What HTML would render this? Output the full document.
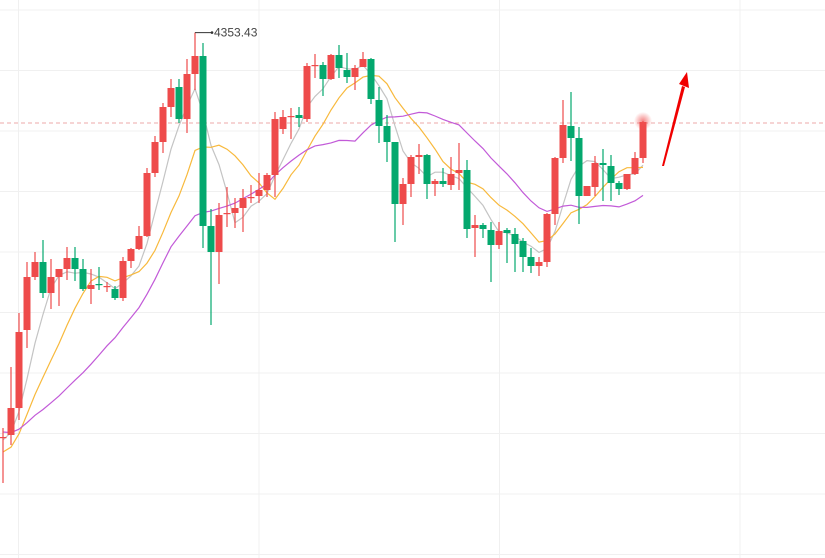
<!DOCTYPE html>
<html><head><meta charset="utf-8"><style>
html,body{margin:0;padding:0;background:#fff;}
svg{display:block;font-family:"Liberation Sans",sans-serif;}
</style></head><body>
<svg id="chart" width="825" height="558" viewBox="0 0 825 558" xmlns="http://www.w3.org/2000/svg">
<defs><radialGradient id="glow"><stop offset="0" stop-color="#f05050" stop-opacity="0.7"/><stop offset="1" stop-color="#f05050" stop-opacity="0"/></radialGradient></defs>
<g id="grid"></g>
<g id="mas"></g>
<g id="candles"></g>
<g id="anno"></g>
</svg>
<script>
const priorCloses=[3990,3985,3980,3975,3978,3975,3980,3969,3960,3948,3930,3920,3915,3925,3920,3940,3950,3945,3946];
const opens=[3949,3951,3978,4056,4109,4124,4093,4109,4117,4128,4117,4097,4102,4099,4097,4088,4125,4137,4150,4213,4244,4279,4299,4267,4312,4330,4160,4134,4172,4173,4178,4188,4190,4196,4211,4257,4269,4271,4267,4320,4321,4307,4331,4316,4309,4319,4327,4286,4260,4244,4182,4202,4229,4231,4202,4205,4201,4213,4216,4158,4161,4156,4141,4156,4152,4145,4129,4120,4124,4172,4228,4260,4248,4190,4199,4223,4220,4203,4197,4212,4228];
const highs=[3958,4019,4073,4124,4134,4146,4127,4117,4139,4139,4127,4117,4119,4104,4100,4129,4138,4160,4218,4250,4283,4307,4307,4327,4353.43,4343,4177,4183,4199,4188,4197,4201,4213,4213,4274,4276,4278,4279,4323,4332,4324,4332,4341,4333,4321,4334,4328,4299,4271,4244,4208,4231,4242,4232,4207,4218,4229,4243,4226,4171,4163,4164,4164,4158,4158,4148,4138,4129,4173,4229,4286,4294,4259,4200,4230,4237,4231,4205,4212,4234,4265];
const lows=[3903,3941,3966,4038,4106,4088,4077,4080,4106,4105,4095,4082,4096,4094,4086,4085,4118,4136,4149,4209,4233,4269,4263,4253,4296,4138,4061,4102,4159,4158,4154,4183,4183,4189,4189,4252,4247,4259,4264,4308,4290,4306,4308,4303,4296,4319,4282,4243,4224,4144,4161,4189,4212,4187,4190,4199,4196,4196,4148,4129,4148,4104,4137,4123,4114,4114,4113,4110,4119,4161,4223,4225,4162,4190,4190,4185,4185,4191,4196,4211,4223];
const closes=[3949,3978,4054,4109,4124,4093,4109,4117,4128,4117,4097,4101,4101,4100,4088,4125,4137,4150,4213,4244,4279,4298,4267,4312,4330,4160,4134,4171,4173,4178,4188,4189,4196,4211,4267,4269,4270,4268,4320,4321,4307,4331,4318,4309,4318,4327,4287,4260,4244,4182,4202,4229,4231,4202,4205,4202,4212,4216,4157,4161,4157,4141,4155,4153,4142,4129,4120,4124,4172,4228,4261,4248,4190,4200,4223,4221,4203,4197,4212,4228,4264];
const maPeriods=[5,10,20];
const maxLabel="4353.43";
const lastPriceLine=4263;

const NS="http://www.w3.org/2000/svg";
const xPos=i=>3+8*i;
const yPos=p=>(4386-p);
function mk(tag,attrs,parent){const e=document.createElementNS(NS,tag);for(const k in attrs)e.setAttribute(k,attrs[k]);parent.appendChild(e);return e;}
const grid=document.getElementById('grid');
for(let k=0;k<10;k++){const y=10+k*60.5;
 const l=mk('line',{x1:0,x2:825,y1:y,y2:y,stroke:'#f0f0f0','stroke-width':1},grid);
 
 }
for(let k=0;k<4;k++){const x=18.5+k*240.5;
 const l=mk('line',{x1:x,x2:x,y1:0,y2:558,stroke:'#f0f0f0','stroke-width':1},grid);
 
 }
const dl=mk('line',{x1:0,x2:825,y1:yPos(lastPriceLine),y2:yPos(lastPriceLine),stroke:'#eca8a8','stroke-dasharray':'4,3','stroke-width':1},grid);



const mas=document.getElementById('mas');
const maColors=['#c4c4c4','#f8b93c','#c25ad8'];
const allC=priorCloses.concat(closes);const off=priorCloses.length;
maPeriods.forEach((n,j)=>{
 let pts=[];
 for(let i=0;i<closes.length;i++){const gi=i+off;const s=Math.max(0,gi-n+1);let sum=0;for(let k=s;k<=gi;k++)sum+=allC[k];pts.push(xPos(i)+','+yPos(sum/(gi-s+1)).toFixed(1));}
 const pl=mk('polyline',{points:pts.join(' '),fill:'none',stroke:maColors[j],'stroke-width':1.2},mas);
 
 
});

const cg=document.getElementById('candles');
for(let i=0;i<closes.length;i++){
 const up=closes[i]>=opens[i];const col=up?'#ee4b4b':'#04a86e';
 const g=mk('g',{},cg);
 
 
 const x=xPos(i);
 mk('line',{x1:x,x2:x,y1:yPos(highs[i]),y2:yPos(lows[i]),stroke:col,'stroke-width':1.2},g);
 const t=yPos(Math.max(opens[i],closes[i])),b=yPos(Math.min(opens[i],closes[i]));
 mk('rect',{x:x-3.5,y:t,width:7,height:Math.max(1.2,b-t),fill:col},g);
}
const an=document.getElementById('anno');
const gl=mk('circle',{cx:xPos(80),cy:yPos(highs[80]),r:9,fill:'url(#glow)'},an);


const hi=highs.indexOf(Math.max(...highs));const hy=yPos(highs[hi]);
const ml=mk('line',{x1:xPos(hi),x2:xPos(hi)+17,y1:hy,y2:hy,stroke:'#333','stroke-width':1},an);


mk('circle',{cx:xPos(hi)+17,cy:hy,r:1.3,fill:'#333'},an);
const tx=mk('text',{x:xPos(hi)+19,y:hy+4,'font-size':12,fill:'#444'},an);
tx.textContent=maxLabel;


const ar=mk('g',{},an);


mk('path',{d:'M662,166 L682,86 L685,87 L664,166 Z',fill:'#f00000'},ar);
mk('path',{d:'M687,72 L689,88 L679,84 Z',fill:'#f00000'},ar);
</script>
</body></html>
